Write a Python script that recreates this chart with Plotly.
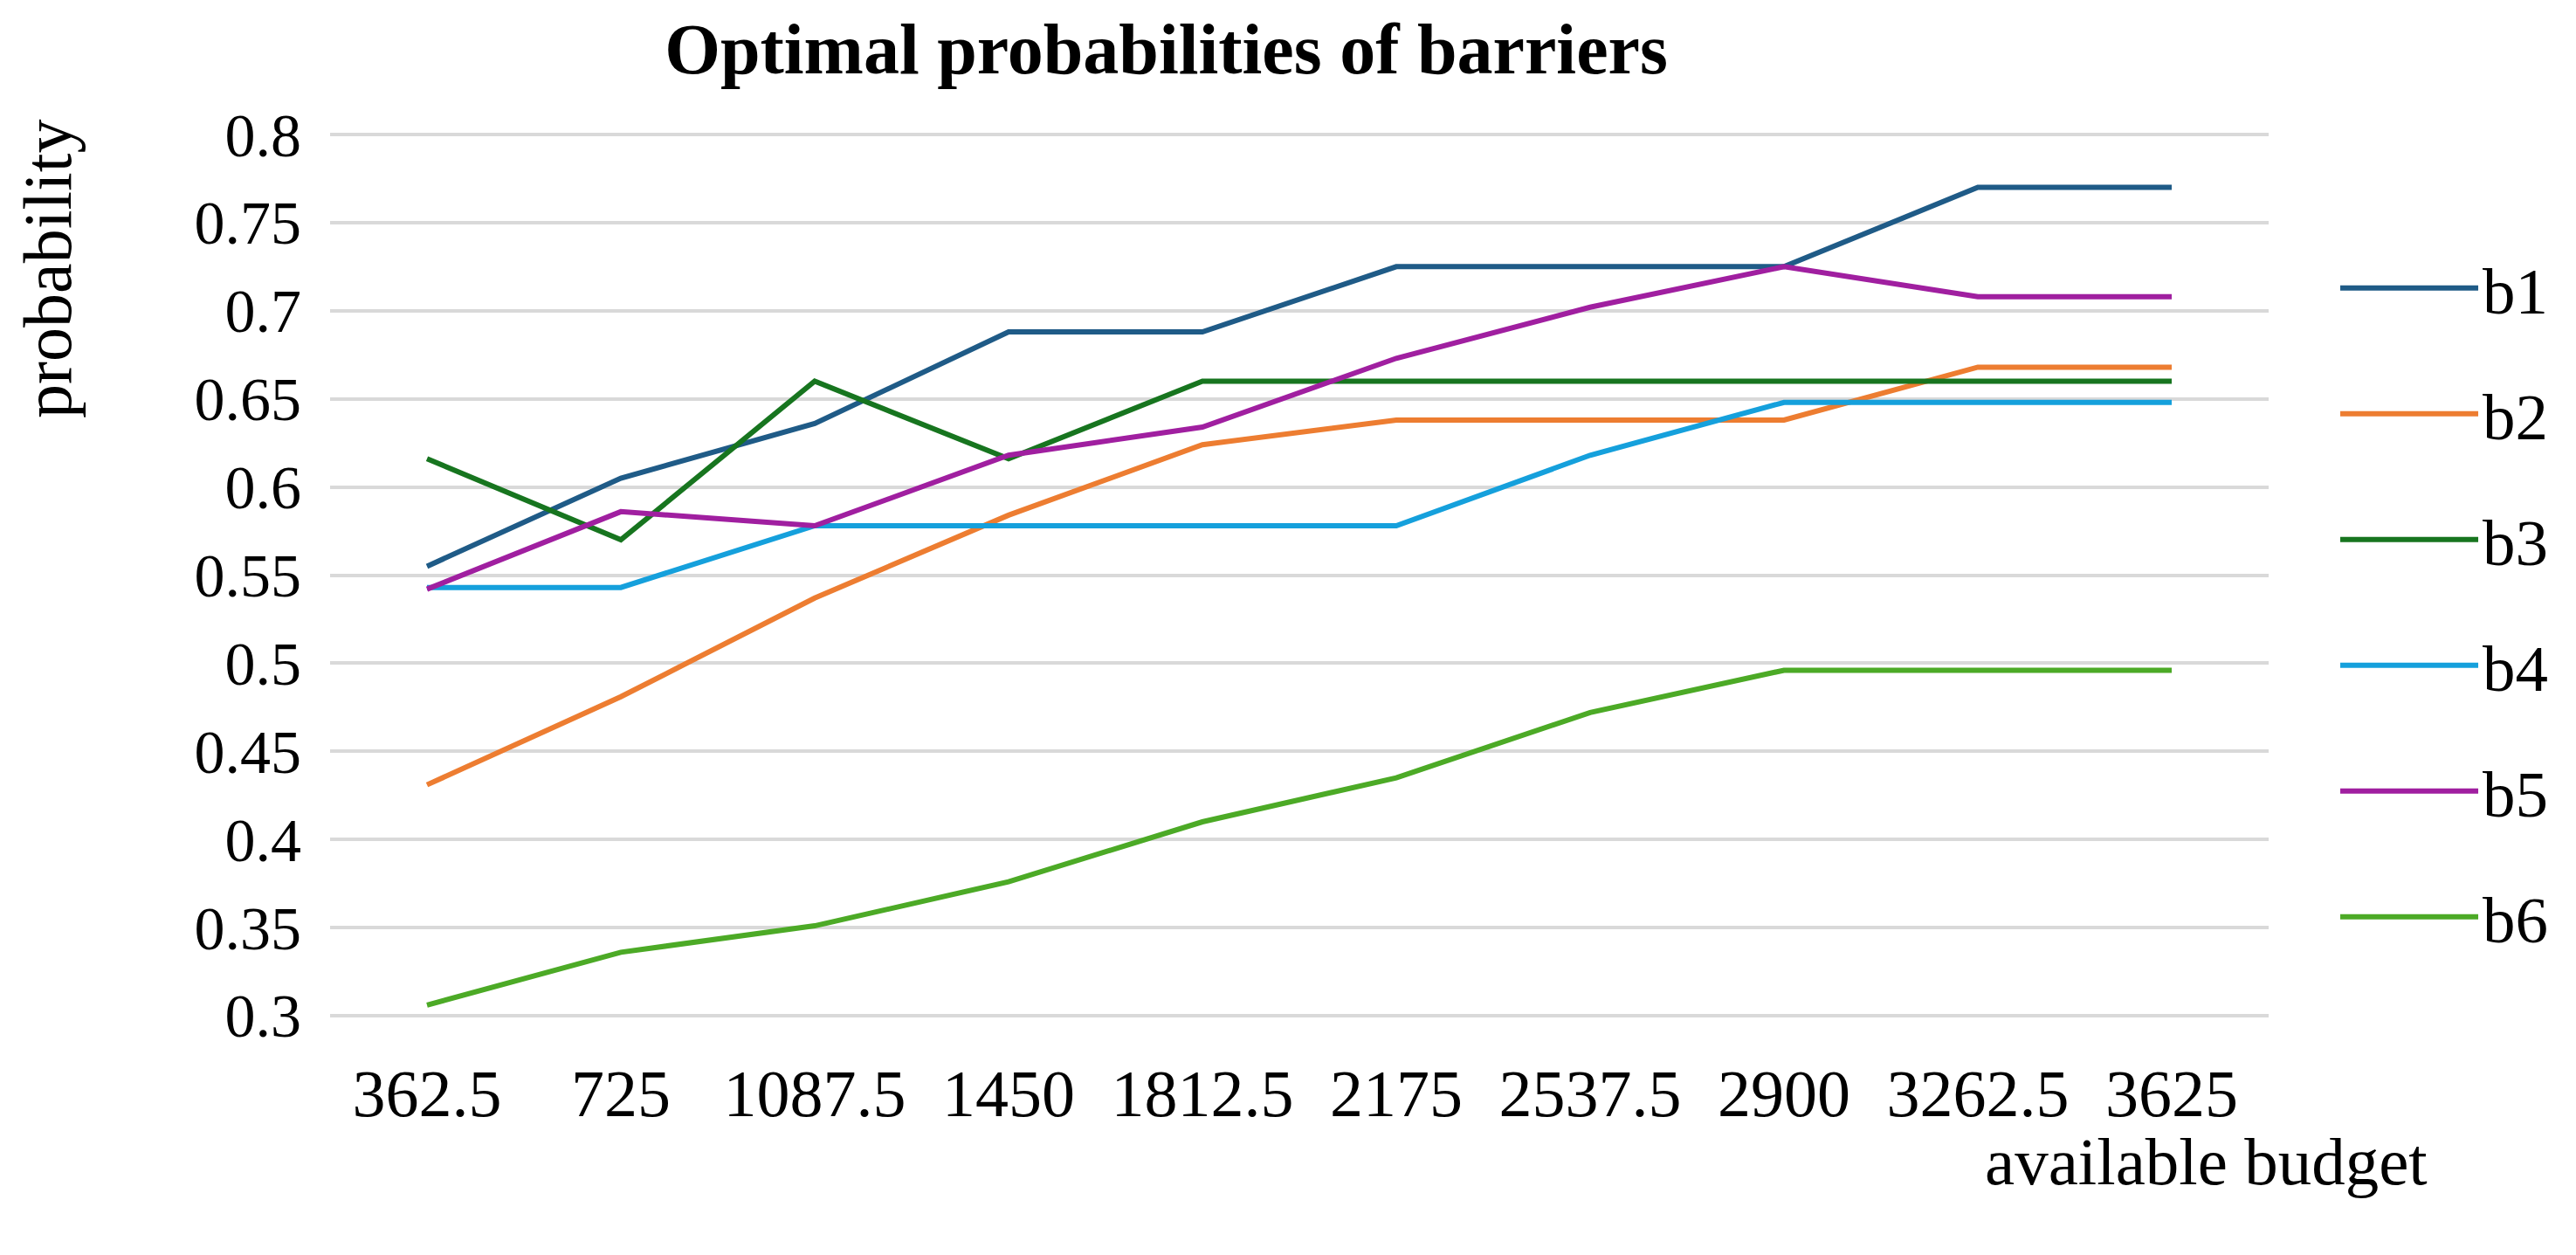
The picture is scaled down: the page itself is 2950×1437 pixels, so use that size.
import plotly.graph_objects as go

budgets = ["362.5", "725", "1087.5", "1450", "1812.5", "2175", "2537.5", "2900", "3262.5", "3625"]
b1 = [0.555, 0.605, 0.636, 0.688, 0.688, 0.725, 0.725, 0.725, 0.770, 0.770]
b2 = [0.431, 0.481, 0.537, 0.584, 0.624, 0.638, 0.638, 0.638, 0.668, 0.668]
b3 = [0.616, 0.570, 0.660, 0.616, 0.660, 0.660, 0.660, 0.660, 0.660, 0.660]
b4 = [0.543, 0.543, 0.578, 0.578, 0.578, 0.578, 0.618, 0.648, 0.648, 0.648]
b5 = [0.542, 0.586, 0.578, 0.618, 0.634, 0.673, 0.702, 0.725, 0.708, 0.708]
b6 = [0.306, 0.336, 0.351, 0.376, 0.410, 0.435, 0.472, 0.496, 0.496, 0.496]
series_names = ["b1", "b2", "b3", "b4", "b5", "b6"]
series_values = [b1, b2, b3, b4, b5, b6]
colors = ["#1F5B87", "#ED7D31", "#17751F", "#15A0DC", "#A01FA0", "#4CAA26"]
y_ticks = [0.3, 0.35, 0.4, 0.45, 0.5, 0.55, 0.6, 0.65, 0.7, 0.75, 0.8]
y_tick_text = ["0.3", "0.35", "0.4", "0.45", "0.5", "0.55", "0.6", "0.65", "0.7", "0.75", "0.8"]

FONT = "Palatino Linotype, Book Antiqua, Liberation Serif, serif"

fig = go.Figure()
for name, vals, col in zip(series_names, series_values, colors):
    fig.add_trace(go.Scatter(
        x=budgets, y=vals, mode="lines", name=name, legendgroup=name,
        line=dict(color=col, width=6, shape="linear"),
    ))

fig.update_layout(
    width=2950, height=1437,
    margin=dict(l=370, r=360, t=144, b=280),
    paper_bgcolor="white", plot_bgcolor="white",
    font=dict(family=FONT, size=70, color="#000000"),
    title=dict(text="<b>Optimal probabilities of barriers</b>", x=0.45, xanchor="center",
               y=0.967, yanchor="middle", font=dict(family=FONT, size=82, color="#000000")),
    showlegend=True,
    legend=dict(x=1.0347, xanchor="left", y=0.879, yanchor="top",
                font=dict(family=FONT, size=75, color="#000000"),
                itemwidth=158,
                tracegroupgap=43.5, bgcolor="rgba(0,0,0,0)"),
    xaxis=dict(type="category", range=[-0.5, 9.5], showgrid=False, zeroline=False,
               showline=False, ticks="", tickfont=dict(family=FONT, size=76, color="#000000"),
               ticklabelstandoff=36),
    yaxis=dict(range=[0.299, 0.801], tickvals=y_ticks, ticktext=y_tick_text, showgrid=True,
               gridcolor="#D9D9D9", gridwidth=3.5, zeroline=False, showline=False, ticks="",
               tickfont=dict(family=FONT, size=70, color="#000000"), ticklabelstandoff=32),
    annotations=[
        dict(text="probability", xref="paper", yref="paper", x=-0.146, y=0.846,
             textangle=-90, showarrow=False, xanchor="center", yanchor="middle",
             font=dict(family=FONT, size=78, color="#000000")),
        dict(text="available budget", xref="paper", yref="paper", x=1.083, y=-0.163,
             showarrow=False, xanchor="right", yanchor="middle",
             font=dict(family=FONT, size=77, color="#000000")),
    ],
)

fig.write_html("out.html")
